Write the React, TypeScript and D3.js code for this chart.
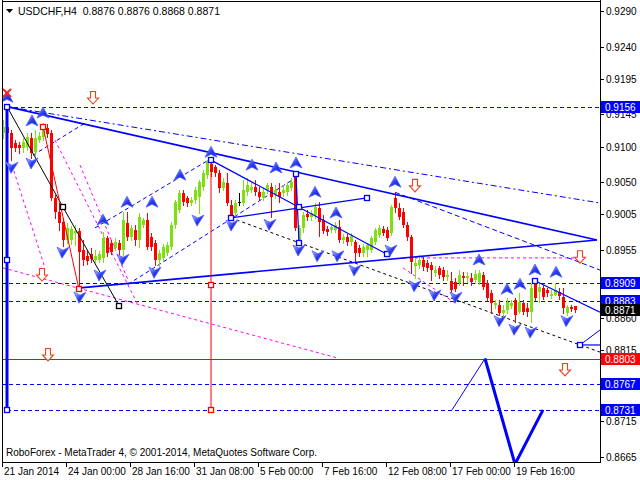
import React from "react";
import * as d3 from "d3";

// ---------- candle data (USDCHF H4) ----------
const OPEN = [
  0.9119, 0.9127, 0.9119, 0.9105, 0.9102, 0.9098, 0.9099, 0.9112, 0.9092, 0.9109,
  0.9113, 0.9126, 0.9119, 0.9028, 0.9008, 0.8994, 0.8969, 0.8969, 0.8979, 0.8982,
  0.8955, 0.8947, 0.8949, 0.8941, 0.8941, 0.8944, 0.8972, 0.8965, 0.8958, 0.8965,
  0.8955, 0.8993, 0.8973, 0.8983, 0.8969, 0.8990, 0.8997, 0.8973, 0.8965, 0.8941,
  0.8944, 0.8951, 0.8959, 0.8990, 0.9011, 0.9035, 0.9028, 0.9021, 0.9025, 0.9029,
  0.9043, 0.9060, 0.9075, 0.9071, 0.9063, 0.9042, 0.9049, 0.9018, 0.9007, 0.9022,
  0.9021, 0.9036, 0.9039, 0.9043, 0.9036, 0.9028, 0.9039, 0.9043, 0.9032, 0.9036,
  0.9035, 0.9036, 0.9042, 0.9060, 0.8969, 0.8986, 0.9005, 0.9001, 0.9004, 0.9014,
  0.8997, 0.8984, 0.8983, 0.8983, 0.8987, 0.8969, 0.8973, 0.8966, 0.8966, 0.8958,
  0.8951, 0.8955, 0.8955, 0.8966, 0.8976, 0.8984, 0.8983, 0.8979, 0.9028, 0.9014,
  0.9008, 0.8990, 0.8973, 0.8933, 0.8934, 0.8941, 0.8937, 0.8934, 0.8923, 0.8930,
  0.8927, 0.8917, 0.8912, 0.8910, 0.8909, 0.8919, 0.8916, 0.8916, 0.8913, 0.8910,
  0.8920, 0.8909, 0.8895, 0.8878, 0.8878, 0.8867, 0.8871, 0.8877, 0.8885, 0.8868,
  0.8881, 0.8874, 0.8868, 0.8907, 0.8896, 0.8902, 0.8899, 0.8891, 0.8892, 0.8896,
  0.8889, 0.8867, 0.8875, 0.8876,
];
const HIGH = [
  0.9137, 0.9156, 0.9123, 0.9109, 0.9106, 0.9112, 0.9119, 0.9119, 0.9123, 0.9120,
  0.9133, 0.9131, 0.9123, 0.9032, 0.9021, 0.9000, 0.8993, 0.8989, 0.8990, 0.8986,
  0.8969, 0.8955, 0.8958, 0.8955, 0.8954, 0.8980, 0.8975, 0.8969, 0.8972, 0.8969,
  0.9008, 0.9008, 0.8990, 0.8990, 0.9007, 0.9000, 0.9007, 0.8979, 0.8969, 0.8955,
  0.8963, 0.8966, 0.8994, 0.9025, 0.9039, 0.9039, 0.9031, 0.9029, 0.9043, 0.9053,
  0.9067, 0.9081, 0.9081, 0.9074, 0.9067, 0.9056, 0.9063, 0.9025, 0.9025, 0.9035,
  0.9053, 0.9056, 0.9049, 0.9053, 0.9043, 0.9042, 0.9049, 0.9049, 0.9046, 0.9049,
  0.9046, 0.9050, 0.9056, 0.9061, 0.8990, 0.9008, 0.9011, 0.9011, 0.9021, 0.9022,
  0.9004, 0.8989, 0.8991, 0.8994, 0.8997, 0.8977, 0.8977, 0.8979, 0.8969, 0.8962,
  0.8963, 0.8965, 0.8975, 0.8986, 0.8990, 0.8989, 0.8987, 0.9018, 0.9036, 0.9021,
  0.9014, 0.8994, 0.8976, 0.8944, 0.8948, 0.8945, 0.8941, 0.8938, 0.8933, 0.8933,
  0.8931, 0.8927, 0.8924, 0.8916, 0.8927, 0.8924, 0.8924, 0.8923, 0.8927, 0.8927,
  0.8924, 0.8913, 0.8899, 0.8885, 0.8885, 0.8878, 0.8888, 0.8885, 0.8888, 0.8895,
  0.8885, 0.8881, 0.8907, 0.8916, 0.8909, 0.8906, 0.8902, 0.8899, 0.8909, 0.8902,
  0.8902, 0.8878, 0.8878, 0.8876,
];
const LOW = [
  0.9112, 0.9116, 0.9081, 0.9094, 0.9091, 0.9092, 0.9095, 0.9084, 0.9088, 0.9106,
  0.9109, 0.9113, 0.9025, 0.9000, 0.8983, 0.8961, 0.8965, 0.8963, 0.8962, 0.8903,
  0.8934, 0.8935, 0.8938, 0.8938, 0.8938, 0.8938, 0.8947, 0.8949, 0.8955, 0.8949,
  0.8948, 0.8969, 0.8969, 0.8962, 0.8959, 0.8987, 0.8956, 0.8955, 0.8934, 0.8931,
  0.8941, 0.8948, 0.8956, 0.8986, 0.9008, 0.9018, 0.9017, 0.9018, 0.9021, 0.9007,
  0.9039, 0.9056, 0.9059, 0.9059, 0.9036, 0.9039, 0.9018, 0.9000, 0.9004, 0.9018,
  0.9018, 0.9032, 0.9036, 0.9032, 0.9025, 0.9025, 0.9035, 0.9001, 0.9028, 0.9022,
  0.9031, 0.9032, 0.9039, 0.8983, 0.8965, 0.8980, 0.8997, 0.8997, 0.9000, 0.8975,
  0.8979, 0.8976, 0.8980, 0.8980, 0.8966, 0.8965, 0.8962, 0.8962, 0.8937, 0.8947,
  0.8947, 0.8947, 0.8952, 0.8963, 0.8973, 0.8976, 0.8969, 0.8976, 0.9008, 0.8998,
  0.8987, 0.8969, 0.8923, 0.8916, 0.8930, 0.8927, 0.8926, 0.8913, 0.8919, 0.8916,
  0.8913, 0.8913, 0.8896, 0.8898, 0.8906, 0.8906, 0.8910, 0.8906, 0.8909, 0.8907,
  0.8900, 0.8885, 0.8867, 0.8874, 0.8864, 0.8863, 0.8867, 0.8874, 0.8854, 0.8867,
  0.8865, 0.8863, 0.8854, 0.8885, 0.8882, 0.8886, 0.8891, 0.8888, 0.8892, 0.8886,
  0.8867, 0.8864, 0.8870, 0.8868,
];
const CLOSE = [
  0.9127, 0.9119, 0.9098, 0.9098, 0.9098, 0.9106, 0.9113, 0.9091, 0.9112, 0.9115,
  0.9126, 0.9117, 0.9028, 0.9008, 0.8993, 0.8969, 0.8986, 0.8984, 0.8982, 0.8952,
  0.8941, 0.8940, 0.8942, 0.8947, 0.8949, 0.8972, 0.8951, 0.8952, 0.8966, 0.8955,
  0.8997, 0.8973, 0.8986, 0.8969, 0.9001, 0.8997, 0.8959, 0.8959, 0.8941, 0.8951,
  0.8959, 0.8962, 0.8990, 0.9022, 0.9035, 0.9022, 0.9021, 0.9025, 0.9039, 0.9050,
  0.9063, 0.9078, 0.9064, 0.9063, 0.9042, 0.9050, 0.9021, 0.9004, 0.9021, 0.9022,
  0.9039, 0.9046, 0.9043, 0.9036, 0.9029, 0.9036, 0.9046, 0.9029, 0.9039, 0.9029,
  0.9039, 0.9046, 0.9050, 0.8986, 0.8986, 0.9004, 0.9001, 0.9007, 0.9015, 0.8994,
  0.8982, 0.8980, 0.8987, 0.8990, 0.8969, 0.8973, 0.8966, 0.8975, 0.8951, 0.8951,
  0.8959, 0.8962, 0.8972, 0.8983, 0.8986, 0.8979, 0.8972, 0.9015, 0.9014, 0.9001,
  0.8990, 0.8973, 0.8938, 0.8937, 0.8941, 0.8931, 0.8930, 0.8927, 0.8927, 0.8920,
  0.8917, 0.8920, 0.8899, 0.8900, 0.8920, 0.8916, 0.8919, 0.8910, 0.8921, 0.8923,
  0.8903, 0.8888, 0.8881, 0.8881, 0.8867, 0.8871, 0.8882, 0.8881, 0.8864, 0.8882,
  0.8868, 0.8868, 0.8902, 0.8888, 0.8903, 0.8889, 0.8895, 0.8893, 0.8899, 0.8891,
  0.8874, 0.8875, 0.8872, 0.8871,
];

// ---------- axes ----------
const X_LABEL_BARS = [0, 16, 32, 48, 64, 80, 96, 112, 128];
const X_LABELS = [
  "21 Jan 2014", "24 Jan 00:00", "28 Jan 16:00", "31 Jan 08:00", "5 Feb 00:00",
  "7 Feb 16:00", "12 Feb 08:00", "17 Feb 00:00", "19 Feb 16:00",
];
const Y_TICKS = [0.929, 0.924, 0.9195, 0.9145, 0.91, 0.905, 0.9005, 0.8955, 0.886, 0.8815, 0.8715, 0.8665];
const BLUE_LEVELS = [0.9156, 0.8909, 0.8883, 0.8767, 0.8731];
const RED_LEVEL = 0.8803;
const LAST_PRICE = 0.8871;
const HEADER = "USDCHF,H4  0.8876 0.8876 0.8868 0.8871";
const FOOTER = "RoboForex - MetaTrader 4, © 2001-2014, MetaQuotes Software Corp.";

// ---------- drawn objects: [bar index, price] ----------
const UP_ARROWS = [
  [1, 0.9169], [7.25, 0.9136], [10, 0.9147], [25, 0.8997], [31, 0.9022], [37.25, 0.9022],
  [44.25, 0.906], [52, 0.9092], [62.25, 0.9074], [68.25, 0.907], [73.25, 0.9077], [78, 0.9036],
  [83.25, 0.9007], [98, 0.905], [119, 0.8941], [126, 0.89], [129.25, 0.8907], [133, 0.8927],
  [138.25, 0.8924],
];
const DOWN_ARROWS = [
  [2.25, 0.9071], [7.25, 0.9077], [15, 0.8952], [19.25, 0.8889], [24.25, 0.892], [30, 0.8942],
  [38, 0.8924], [48.75, 0.8997], [57.25, 0.899], [66.75, 0.8991], [74, 0.8955], [78.75, 0.8947],
  [83.75, 0.8947], [88, 0.8927], [97, 0.8955], [103, 0.8905], [108, 0.8892], [113.25, 0.8889],
  [124.25, 0.8856], [128, 0.8844], [132, 0.884], [141, 0.8856],
];
const RED_ARROWS = [[22.5, 0.9168], [9.75, 0.892], [11.25, 0.8808], [103, 0.9045], [144.25, 0.8945], [140.5, 0.8787]];
const RED_CROSS = [1, 0.9175];

const TRI_UPPER = [[1, 0.9156], [148.5, 0.8969]];
const TRI_LOWER = [[19.25, 0.8902], [148.5, 0.8969]];
const UPPER_DASH = [[1, 0.9156], [149.25, 0.9021]];
const PEAK_DASH = [[98, 0.9036], [149.25, 0.8927]];
const RALLY_UP_DASH = [[23, 0.8986], [52.25, 0.9084]];
const RALLY_LOW_DASH = [[31.25, 0.8907], [72.25, 0.9053]];
const EARLY_DASH = [[7.5, 0.9088], [20.5, 0.9133]];
const BLACK_WAVE = [[1, 0.9156], [15, 0.9015], [29, 0.8877]];
const RED_WAVE = [[10, 0.9128], [19, 0.89]];
const RED_VERT = [[52, 0.9081], [52, 0.8906], [52, 0.8731]];
const DESC_LINE = [[52, 0.9081], [74, 0.9015], [96, 0.8949]];
const SHORT_LINE = [[57, 0.9], [91, 0.9028]];
const VERT_BLUE = [[73.25, 0.9061], [74, 0.8965]];
const BLACK_DASH = [[57, 0.9], [144.25, 0.8822], [149.25, 0.8812]];
const RIGHT_DESC = [[133, 0.8912], [149.25, 0.8868]];
const RIGHT_FLAT = [[144.25, 0.8822], [149.25, 0.8822]];
const RIGHT_RISE = [[144.25, 0.8822], [149.25, 0.8843]];
const LEFT_VERT = [[1, 0.9156], [1, 0.8941], [1, 0.8731]];
const MAG_LONG = [[0, 0.893], [83.5, 0.8804]];
const MAG_A = [[2.25, 0.9074], [10.5, 0.893]];
const MAG_B = [[13, 0.9109], [33.5, 0.8881]];
const MAG_C = [[19.25, 0.9074], [31.25, 0.8913]];
const MAG_FLAT = [[100, 0.8944], [143.5, 0.8944]];
const MAG_DIAG = [[100, 0.893], [113.5, 0.8879]];
const FORECAST_THIN = [[112.25, 0.8731], [120.5, 0.8803]];
const FORECAST_THICK = [[120.5, 0.8803], [128, 0.8655], [135, 0.8731]];

const FONT = "'Liberation Sans', Arial, sans-serif";
const BLUE = "#0000ff";
const BULL = "#7fe010";
const BEAR = "#ff0000";
const MAG = "#ff00ff";

export default function App() {
  const W = 640, H = 480;
  const L = 2, R = 600, T = 1, B = 462;
  const x = d3.scaleLinear().domain([0, 149.25]).range([3, 600]);
  const y = d3.scaleLinear().domain([0.8665, 0.929]).range([457, 11]);
  const line = d3.line<number[]>().x((d) => x(d[0])).y((d) => y(d[1]));
  const idx = d3.range(OPEN.length);

  const seg = (pts: number[][], color: string, width: number, dash?: string, key?: string) => (
    <path key={key} d={line(pts) || ""} fill="none" stroke={color} strokeWidth={width} strokeDasharray={dash} />
  );
  const square = (p: number[], color: string, key: string) => (
    <rect key={key} x={Math.round(x(p[0])) - 2.5} y={Math.round(y(p[1])) - 2.5} width={5} height={5} fill="#fff" stroke={color} strokeWidth={1.3} />
  );

  return (
    <svg width={W} height={H} style={{ position: "absolute", left: 0, top: 0, background: "#fff" }} fontFamily={FONT}>
      <defs>
        <clipPath id="plot">
          <rect x={L} y={T} width={R - L} height={B - T} />
        </clipPath>
        <linearGradient id="arrowFill" x1="0" y1="0" x2="1" y2="1">
          <stop offset="0" stopColor="#c8d0ff" />
          <stop offset="0.5" stopColor="#2a3af0" />
          <stop offset="1" stopColor="#1020c0" />
        </linearGradient>
      </defs>
      <rect x={0} y={0} width={W} height={H} fill="#fff" />

      <g clipPath="url(#plot)">
        {/* horizontal levels */}
        {BLUE_LEVELS.map((p, i) => (
          <line key={"lv" + i} x1={p === 0.9156 || p === 0.8731 ? x(1) : L} x2={R} y1={Math.round(y(p)) + 0.5} y2={Math.round(y(p)) + 0.5} stroke={BLUE} strokeWidth={1} strokeDasharray="4,3" />
        ))}
        <line x1={L} x2={R} y1={Math.round(y(RED_LEVEL)) + 0.5} y2={Math.round(y(RED_LEVEL)) + 0.5} stroke="#ff0000" strokeWidth={1} />

        {/* magenta lines */}
        {[MAG_LONG, MAG_A, MAG_B, MAG_C, MAG_FLAT, MAG_DIAG].map((m, i) => seg(m, MAG, 1, "3,3", "mg" + i))}

        {/* dashed blue channels */}
        {seg(UPPER_DASH, BLUE, 1, "6,3,2,3", "ud")}
        {seg(PEAK_DASH, BLUE, 1, "5,3", "pd")}
        {seg(RALLY_UP_DASH, BLUE, 1, "4,3", "ru")}
        {seg(RALLY_LOW_DASH, BLUE, 1, "4,3", "rl")}
        {seg(EARLY_DASH, BLUE, 1, "4,3", "ed")}
        {seg(BLACK_DASH, "#000", 1, "3,3", "bd")}

        {/* candles */}
        {idx.map((i) => {
          const cx = Math.round(x(i));
          const o = OPEN[i], c = CLOSE[i];
          const col = c > o ? BULL : c < o ? BEAR : "#000";
          const top = Math.round(y(Math.max(o, c)));
          const bot = Math.round(y(Math.min(o, c)));
          return (
            <g key={"c" + i}>
              <line x1={cx + 0.5} x2={cx + 0.5} y1={Math.round(y(HIGH[i]))} y2={Math.round(y(LOW[i])) + 1} stroke={col} strokeWidth={1} />
              <rect x={cx - 1} y={top} width={3} height={Math.max(1, bot - top)} fill={col} />
            </g>
          );
        })}

        {/* solid lines */}
        {seg(TRI_UPPER, BLUE, 1.6, undefined, "tu")}
        {seg(TRI_LOWER, BLUE, 1.6, undefined, "tl")}
        {seg(DESC_LINE, BLUE, 1.2, undefined, "dl")}
        {seg(SHORT_LINE, BLUE, 1.2, undefined, "sl")}
        {seg(VERT_BLUE, BLUE, 1.2, undefined, "vb")}
        {seg(RIGHT_DESC, BLUE, 1.2, undefined, "rd")}
        {seg(RIGHT_FLAT, BLUE, 1.2, undefined, "rf")}
        {seg(RIGHT_RISE, BLUE, 1, undefined, "rr")}
        {seg(BLACK_WAVE, "#000", 1, undefined, "bw")}
        {seg(RED_WAVE, "#ff0000", 1, undefined, "rw")}
        {seg(RED_VERT, "#ff0000", 1, undefined, "rv")}
        {seg(LEFT_VERT, BLUE, 3, undefined, "lv")}
        {seg(FORECAST_THIN, BLUE, 1, undefined, "ft")}
        {seg(FORECAST_THICK, BLUE, 3, undefined, "fk")}

        {/* squares */}
        {LEFT_VERT.map((p, i) => square(p, BLUE, "lq" + i))}
        {[DESC_LINE[0], DESC_LINE[1], DESC_LINE[2], SHORT_LINE[0], SHORT_LINE[1], VERT_BLUE[0], VERT_BLUE[1], RIGHT_DESC[0], RIGHT_FLAT[0]].map((p, i) => square(p, BLUE, "bq" + i))}
        {[BLACK_WAVE[1], BLACK_WAVE[2]].map((p, i) => square(p, "#000", "kq" + i))}
        {[RED_WAVE[0], RED_WAVE[1], RED_VERT[1], RED_VERT[2]].map((p, i) => square(p, "#ff0000", "rq" + i))}

        {/* fractal arrows */}
        {UP_ARROWS.map((p, i) => (
          <path key={"ua" + i} transform={`translate(${x(p[0])},${y(p[1])})`} d="M0,-6 L6,5 L0,2 L-6,5 Z" fill="url(#arrowFill)" stroke="#5060ff" strokeWidth={0.8} />
        ))}
        {DOWN_ARROWS.map((p, i) => (
          <path key={"da" + i} transform={`translate(${x(p[0])},${y(p[1])})`} d="M-1,6 L6,-5 L0,-2 L-6,-5 Z" fill="url(#arrowFill)" stroke="#5060ff" strokeWidth={0.8} />
        ))}

        {/* hollow red arrows */}
        {RED_ARROWS.map((p, i) => (
          <path key={"ra" + i} transform={`translate(${x(p[0])},${y(p[1])})`} d="M-2.5,-6.5 L2.5,-6.5 L2.5,0 L5.5,0 L0,6 L-5.5,0 L-2.5,0 Z" fill="#fff" stroke="#f04020" strokeWidth={1.1} />
        ))}
        <g transform={`translate(${x(RED_CROSS[0])},${y(RED_CROSS[1])})`} stroke="#ff2020" strokeWidth={2}>
          <line x1={-4} y1={-4} x2={4} y2={4} />
          <line x1={-4} y1={4} x2={4} y2={-4} />
        </g>
      </g>

      {/* frame */}
      <line x1={L + 0.5} x2={L + 0.5} y1={0} y2={B + 1} stroke="#000" />
      <line x1={R + 0.5} x2={R + 0.5} y1={0} y2={B + 1} stroke="#000" />
      <line x1={L} x2={R + 1} y1={B + 0.5} y2={B + 0.5} stroke="#000" />
      <line x1={L} x2={R + 1} y1={T + 0.5} y2={T + 0.5} stroke="#000" />

      {/* header and footer text */}
      <path d="M6,9 L13,9 L9.5,13 Z" fill="#000" />
      <text x={18} y={15} fontSize={10.5} fill="#000" style={{ whiteSpace: "pre" }}>{HEADER}</text>
      <text x={6} y={456} fontSize={10} fill="#000">{FOOTER}</text>

      {/* right axis */}
      {Y_TICKS.map((t, i) => (
        <g key={"yt" + i}>
          <line x1={R} x2={R + 4} y1={Math.round(y(t)) + 0.5} y2={Math.round(y(t)) + 0.5} stroke="#000" />
          <text x={606} y={Math.round(y(t)) + 4} fontSize={10} fill="#000">{t.toFixed(4)}</text>
        </g>
      ))}
      {BLUE_LEVELS.map((p, i) => (
        <g key={"lb" + i}>
          <rect x={601} y={Math.round(y(p)) - 6} width={39} height={12} fill="#0000ff" />
          <text x={605} y={Math.round(y(p)) + 4} fontSize={10} fill="#fff">{p.toFixed(4)}</text>
        </g>
      ))}
      <rect x={601} y={Math.round(y(RED_LEVEL)) - 6} width={39} height={12} fill="#ff0000" />
      <text x={605} y={Math.round(y(RED_LEVEL)) + 4} fontSize={10} fill="#fff">{RED_LEVEL.toFixed(4)}</text>
      <rect x={601} y={Math.round(y(LAST_PRICE)) - 6} width={39} height={12} fill="#000" />
      <text x={605} y={Math.round(y(LAST_PRICE)) + 4} fontSize={10} fill="#fff">{LAST_PRICE.toFixed(4)}</text>

      {/* bottom axis */}
      {X_LABEL_BARS.map((b, i) => (
        <g key={"xt" + i}>
          <line x1={Math.round(x(b)) - 0.5} x2={Math.round(x(b)) - 0.5} y1={B} y2={B + 5} stroke="#000" />
          <text x={Math.round(x(b)) + 1} y={475} fontSize={10} fill="#000">{X_LABELS[i]}</text>
        </g>
      ))}
    </svg>
  );
}
